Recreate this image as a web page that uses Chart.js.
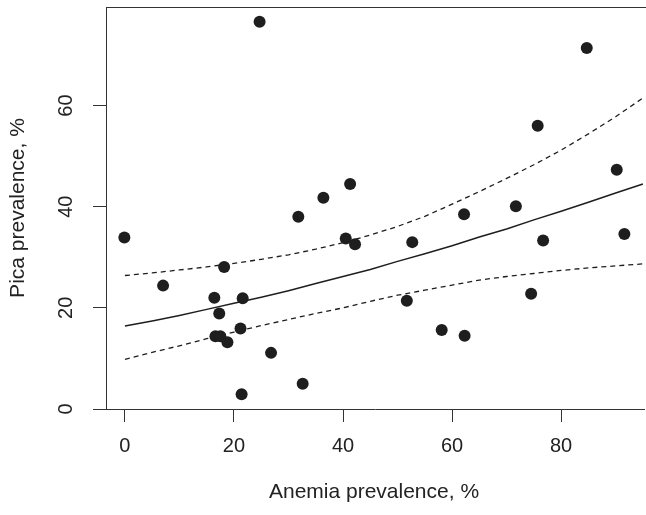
<!DOCTYPE html>
<html>
<head>
<meta charset="utf-8">
<script src="https://cdn.jsdelivr.net/npm/chart.js@4.4.0/dist/chart.umd.min.js"></script>
<style>
    html, body { margin: 0; padding: 0; background: #fff; }
    #wrap { width: 646px; height: 515px; overflow: hidden; }
    canvas { display: block; }
</style>
</head>
<body>
<div id="wrap"><canvas id="scatter" width="650" height="515"></canvas></div>
<script>
// Datos
const anemia = [-0.1, 7.0, 16.4, 16.6, 17.3, 17.5, 18.2, 18.8, 21.2, 21.4, 21.6, 24.7, 26.8, 31.8, 32.6, 36.4,
    40.5, 41.3, 42.2, 51.7, 52.7, 58.1, 62.2, 62.3, 71.7, 74.5, 75.7, 76.7, 84.7, 90.2, 91.6];
const pica = [33.9, 24.4, 22.0, 14.4, 18.9, 14.4, 28.1, 13.2, 15.9, 2.9, 21.9, 76.6, 11.1, 38.0, 5.0, 41.8,
    33.7, 44.5, 32.6, 21.4, 33.0, 15.6, 38.5, 14.5, 40.1, 22.8, 56.0, 33.3, 71.4, 47.3, 34.6];

// Curva ajustada y bandas (valores estimados cada 5 puntos)
const fitX = [0, 5, 10, 15, 20, 25, 30, 35, 40, 45, 50, 55, 60, 65, 70, 75, 80, 85, 90, 95];
const fitMid = [16.4, 17.4, 18.5, 19.7, 20.9, 22.1, 23.4, 24.8, 26.2, 27.6, 29.2, 30.7, 32.3, 34.0, 35.6, 37.4, 39.1, 40.9, 42.7, 44.5];
const fitUpper = [26.4, 26.9, 27.5, 28.1, 28.8, 29.6, 30.5, 31.6, 32.9, 34.4, 36.1, 38.1, 40.5, 43.0, 45.6, 48.3, 51.2, 54.4, 57.8, 61.5];
const fitLower = [9.8, 11.2, 12.5, 13.9, 15.2, 16.5, 17.7, 18.9, 20.0, 21.3, 22.5, 23.5, 24.5, 25.5, 26.2, 26.8, 27.4, 27.9, 28.3, 28.7];

const xTicks = [0, 20, 40, 60, 80];
const yTicks = [0, 20, 40, 60];
const xTitle = 'Anemia prevalence, %';
const yTitle = 'Pica prevalence, %';

const ink = '#1e1e1e';
const axisColor = '#333';
const font = '"Liberation Sans", Arial, Helvetica, sans-serif';

function toPoints(xs, ys) {
    return xs.map((x, i) => ({ x: x, y: ys[i] }));
}

function lineSet(ys, dashed) {
    return {
        type: 'line',
        data: toPoints(fitX, ys),
        borderColor: ink,
        borderWidth: dashed ? 1.3 : 1.5,
        borderDash: dashed ? [5, 4] : [],
        pointRadius: 0,
        fill: false,
        tension: 0,
        order: 2
    };
}

// Marco superior, etiquetas y títulos al estilo R
const rStyle = {
    id: 'rStyle',
    afterDraw(chart) {
        const ctx = chart.ctx;
        const area = chart.chartArea;
        const xs = chart.scales.x;
        const ys = chart.scales.y;

        ctx.save();
        ctx.strokeStyle = axisColor;
        ctx.lineWidth = 1;
        ctx.beginPath();
        ctx.moveTo(area.left, area.top + 0.5);
        ctx.lineTo(area.right + 4, area.top + 0.5);
        ctx.stroke();

        ctx.fillStyle = '#222';
        ctx.font = '20px ' + font;
        ctx.textAlign = 'center';
        ctx.textBaseline = 'middle';

        xs.ticks.forEach(t => {
            ctx.fillText(String(t.value), xs.getPixelForValue(t.value), 446);
        });
        ys.ticks.forEach(t => {
            ctx.save();
            ctx.translate(66, ys.getPixelForValue(t.value));
            ctx.rotate(-Math.PI / 2);
            ctx.fillText(String(t.value), 0, 0);
            ctx.restore();
        });

        ctx.font = '21px ' + font;
        ctx.fillText(xTitle, (area.left + area.right) / 2 - 1, 492);
        ctx.save();
        ctx.translate(18, (area.top + area.bottom) / 2);
        ctx.rotate(-Math.PI / 2);
        ctx.fillText(yTitle, 0, 0);
        ctx.restore();
        ctx.restore();
    }
};

new Chart(document.getElementById('scatter'), {
    type: 'scatter',
    data: {
        datasets: [
            {
                data: toPoints(anemia, pica),
                backgroundColor: ink,
                borderWidth: 0,
                pointRadius: 6,
                pointHoverRadius: 6,
                order: 1
            },
            lineSet(fitMid, false),
            lineSet(fitUpper, true),
            lineSet(fitLower, true)
        ]
    },
    options: {
        responsive: false,
        animation: false,
        devicePixelRatio: 1,
        layout: { padding: { top: 7, right: 4, left: 0, bottom: 0 } },
        plugins: {
            legend: { display: false },
            tooltip: { enabled: false }
        },
        scales: {
            x: {
                type: 'linear',
                min: -3.47,
                max: 95.2,
                afterBuildTicks: s => { s.ticks = xTicks.map(v => ({ value: v })); },
                afterFit: s => { s.height = 106; },
                ticks: { display: false },
                grid: { drawOnChartArea: false, drawTicks: true, tickLength: 13, color: axisColor, lineWidth: 1 },
                border: { display: true, color: axisColor, width: 1 }
            },
            y: {
                type: 'linear',
                min: 0,
                max: 79.5,
                afterBuildTicks: s => { s.ticks = yTicks.map(v => ({ value: v })); },
                afterFit: s => { s.width = 106; },
                ticks: { display: false },
                grid: { drawOnChartArea: false, drawTicks: true, tickLength: 13, color: axisColor, lineWidth: 1 },
                border: { display: true, color: axisColor, width: 1 }
            }
        }
    },
    plugins: [rStyle]
});
</script>
</body>
</html>
